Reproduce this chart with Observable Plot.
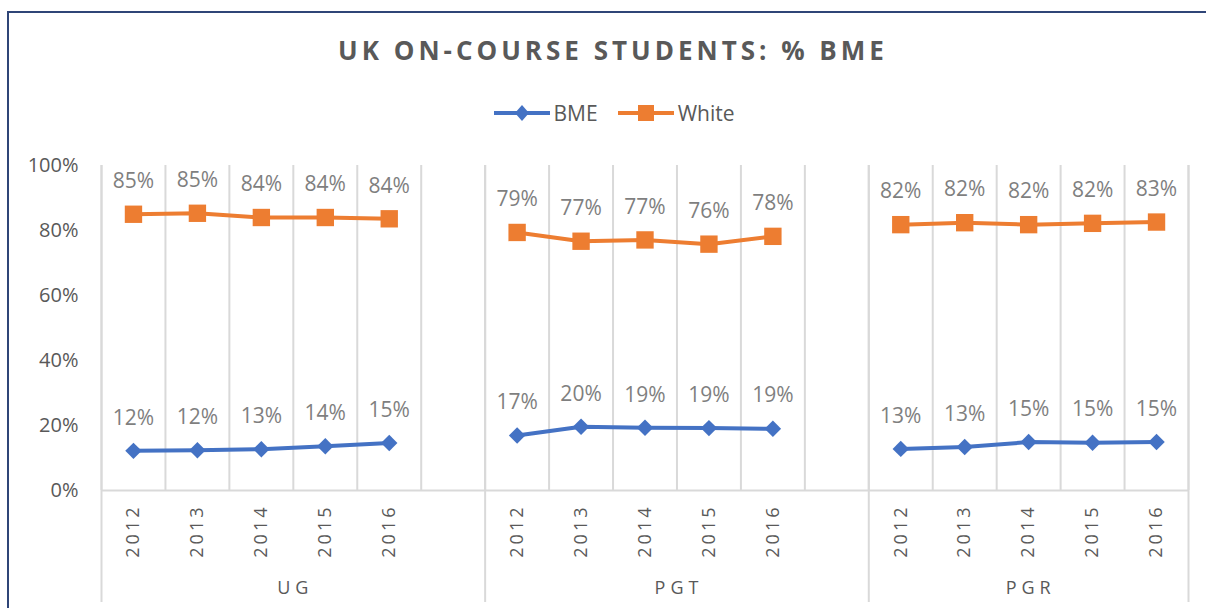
<!DOCTYPE html>
<html>
<head>
<meta charset="utf-8">
<script src="https://cdn.jsdelivr.net/npm/d3@7"></script>
<script src="https://cdn.jsdelivr.net/npm/@observablehq/plot@0.6"></script>
<style>
  body { margin: 0; background: #fff; font-family: "Open Sans", sans-serif; }
  #frame { position: absolute; left: 7px; top: 11px; width: 1240px; height: 660px;
           border-left: 2px solid #2f4577; border-top: 2px solid #2f4577; box-sizing: border-box; }
  #title { position: absolute; left: 10px; width: 1206px; top: 32px; text-align: center;
           font-size: 26px; font-weight: 700; letter-spacing: 4px; color: #595959; white-space: nowrap; }
  #legend { position: absolute; left: 11px; width: 1206px; top: 99px; display: flex; justify-content: center;
            align-items: center; font-size: 21px; color: #595959; }
  #legend .item { display: flex; align-items: center; margin: 0 10px; }
  #legend svg { margin-right: 4px; }
  #chart { position: absolute; left: 0; top: 150px; }
</style>
</head>
<body>
<div id="frame"></div>
<div id="title">UK ON-COURSE STUDENTS: % BME</div>
<div id="legend"></div>
<div id="chart"></div>
<script>
// ---- data ----
const groups = ["UG", "PGT", "PGR"];
const years = ["2012", "2013", "2014", "2015", "2016"];
const seriesNames = ["BME", "White"];
const seriesColors = ["#4472C4", "#ED7D31"];
const bmeUG  = [0.122, 0.124, 0.127, 0.136, 0.146];
const bmePGT = [0.169, 0.196, 0.193, 0.192, 0.190];
const bmePGR = [0.128, 0.134, 0.149, 0.147, 0.149];
const whiteUG  = [0.850, 0.853, 0.840, 0.840, 0.836];
const whitePGT = [0.794, 0.767, 0.771, 0.758, 0.782];
const whitePGR = [0.818, 0.824, 0.818, 0.822, 0.826];
const yTicks = [0, 0.2, 0.4, 0.6, 0.8, 1];

const values = {
  BME:   {UG: bmeUG, PGT: bmePGT, PGR: bmePGR},
  White: {UG: whiteUG, PGT: whitePGT, PGR: whitePGR}
};

// each group takes years.length slots plus one blank slot (except the last)
const slotsPerGroup = years.length + 1;
const totalSlots = groups.length * slotsPerGroup - 1;
const pos = (g, i) => g * slotsPerGroup + i + 0.5;

const rows = [];
seriesNames.forEach(s => groups.forEach((grp, g) => years.forEach((yr, i) => {
  rows.push({series: s, group: grp, year: yr, pos: pos(g, i), value: values[s][grp][i]});
})));
const yearRows = [];
groups.forEach((grp, g) => years.forEach((yr, i) => yearRows.push({pos: pos(g, i), year: yr})));
const boundaries = d3.range(totalSlots + 1);
const groupBounds = groups.map((grp, g) => g * slotsPerGroup).concat([totalSlots]);
const groupRows = groups.map((grp, g) => ({
  group: grp,
  pos: (g * slotsPerGroup + Math.min((g + 1) * slotsPerGroup, totalSlots)) / 2
}));

const fmt = d3.format(".0%");
const bmeRows = rows.filter(d => d.series === seriesNames[0]);
const whiteRows = rows.filter(d => d.series === seriesNames[1]);

const chart = Plot.plot({
  width: 1206,
  height: 458,
  marginLeft: 101,
  marginRight: 18,
  marginTop: 15,
  marginBottom: 118,
  style: {fontFamily: "Open Sans", fontSize: "20px", color: "#595959", background: "transparent", overflow: "visible"},
  x: {domain: [0, totalSlots], axis: null},
  y: {domain: [0, 1], axis: null},
  marks: [
    Plot.ruleX(boundaries, {x: d => d, stroke: "#d9d9d9", strokeWidth: 2}),
    Plot.ruleX(groupBounds, {x: d => d, stroke: "#d9d9d9", strokeWidth: 2, insetBottom: -112}),
    Plot.ruleY([0], {stroke: "#d9d9d9", strokeWidth: 2}),
    Plot.axisY({ticks: yTicks, tickFormat: fmt, tickSize: 0, tickPadding: 23, fontSize: 20, fill: "#595959", label: null}),
    Plot.line(bmeRows, {x: "pos", y: "value", z: "group", stroke: seriesColors[0], strokeWidth: 4}),
    Plot.line(whiteRows, {x: "pos", y: "value", z: "group", stroke: seriesColors[1], strokeWidth: 4}),
    Plot.dot(bmeRows, {x: "pos", y: "value", symbol: d3.symbolDiamond2, fill: seriesColors[0], r: 7.4}),
    Plot.dot(whiteRows, {x: "pos", y: "value", symbol: d3.symbolSquare, fill: seriesColors[1], r: 9.8}),
    Plot.text(rows, {x: "pos", y: "value", text: d => fmt(d.value), dy: -33, fill: "#7f7f7f", fontSize: 21}),
    Plot.text(yearRows, {x: "pos", y: () => 0, text: "year", rotate: -90, textAnchor: "end", dy: 14, fill: "#595959", fontSize: 18}),
    Plot.text(groupRows, {x: "pos", y: () => 0, text: "group", dy: 98, dx: 2, fill: "#595959", fontSize: 18})
  ]
});
document.getElementById("chart").appendChild(chart);

// letter spacing for category labels
chart.querySelectorAll("text").forEach(t => {
  if (years.includes(t.textContent)) t.setAttribute("letter-spacing", "3px");
  else if (groups.includes(t.textContent)) t.setAttribute("letter-spacing", "5px");
});

// legend
const legend = d3.select("#legend");
seriesNames.forEach((s, k) => {
  const item = legend.append("div").attr("class", "item");
  const svg = item.append("svg").attr("width", 56).attr("height", 20);
  svg.append("line").attr("x1", 0).attr("x2", 56).attr("y1", 10).attr("y2", 10)
     .attr("stroke", seriesColors[k]).attr("stroke-width", 4);
  if (k === 0) svg.append("path").attr("d", "M28,2L35,10L28,18L21,10Z").attr("fill", seriesColors[k]);
  else svg.append("rect").attr("x", 20).attr("y", 2).attr("width", 16).attr("height", 16).attr("fill", seriesColors[k]);
  item.append("span").text(s);
});
</script>
</body>
</html>
